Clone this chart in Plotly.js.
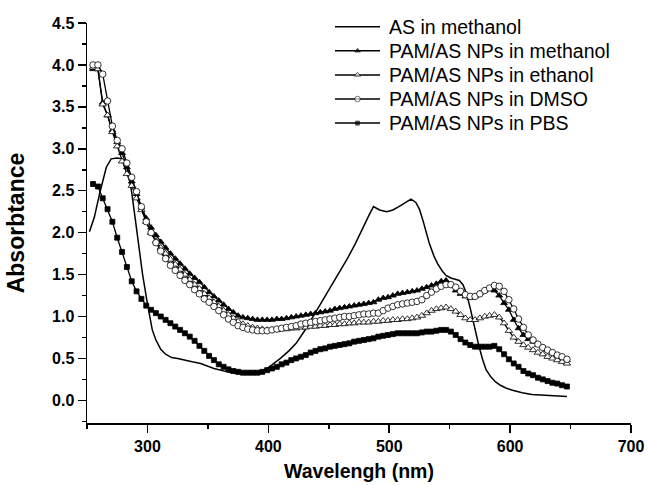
<!DOCTYPE html>
<html>
<head>
<meta charset="utf-8">
<script src="https://cdn.plot.ly/plotly-3.0.1.min.js"></script>
<style>html,body{margin:0;padding:0;background:#fff;}#chart{width:649px;height:485px;}</style>
</head>
<body>
<div id="chart"></div>
<script>
// AS in methanol (solid line)
var asWl = [252,256,261,266,270,275,279,283,287,290,292,296,300,304,307,311,315,320,325,330,337,344,350,355,361,366,374,380,385,390,395,400,405,410,417,423,430,437,444,451,458,465,472,478,483,487,492,498,503,508,513,518,522,525,528,533,537,540,544,547,551,554,558,561,564,567,570,574,577,580,584,588,592,596,602,610,618,627,637,647];
var asAbs = [2.01,2.18,2.50,2.78,2.88,2.89,2.88,2.79,2.48,2.16,1.91,1.50,1.15,0.84,0.72,0.61,0.55,0.51,0.50,0.48,0.46,0.44,0.41,0.38,0.36,0.34,0.32,0.32,0.32,0.33,0.35,0.39,0.44,0.50,0.59,0.68,0.83,1.00,1.17,1.35,1.51,1.68,1.87,2.06,2.20,2.31,2.27,2.25,2.27,2.31,2.35,2.40,2.36,2.28,2.14,1.88,1.72,1.63,1.54,1.49,1.46,1.45,1.43,1.38,1.27,1.10,0.90,0.66,0.50,0.37,0.28,0.22,0.18,0.15,0.12,0.09,0.07,0.06,0.05,0.045];

// wavelengths of the NP spectra (marker series)
var npWl = [255,259,263,267,271,275,279,283,287,291,295,299,303,307,311,315,319,323,327,331,335,339,343,347,351,355,359,363,367,371,375,379,383,387,391,395,399,403,407,411,415,419,423,427,431,435,439,443,447,451,455,459,463,467,471,475,479,483,487,491,495,499,503,507,511,515,519,523,527,531,535,539,543,547,551,555,559,563,567,571,575,579,583,587,591,595,599,603,607,611,615,619,623,627,631,635,639,643,647];

var npMethanol = [3.95,3.95,3.55,3.40,3.22,3.08,2.95,2.78,2.61,2.46,2.30,2.17,2.06,1.97,1.89,1.82,1.75,1.69,1.63,1.57,1.51,1.46,1.41,1.35,1.29,1.24,1.19,1.14,1.09,1.05,1.01,0.99,0.98,0.97,0.96,0.96,0.96,0.96,0.97,0.97,0.98,0.99,1.00,1.01,1.02,1.03,1.04,1.05,1.06,1.07,1.09,1.10,1.11,1.12,1.13,1.14,1.15,1.16,1.17,1.20,1.22,1.23,1.25,1.27,1.28,1.29,1.30,1.31,1.33,1.35,1.37,1.39,1.42,1.43,1.37,1.31,1.27,1.24,1.22,1.24,1.28,1.31,1.33,1.31,1.25,1.16,1.08,0.96,0.86,0.78,0.73,0.70,0.66,0.63,0.60,0.57,0.54,0.51,0.48];

var npEthanol = [3.97,3.95,3.53,3.40,3.20,3.03,2.85,2.70,2.56,2.41,2.27,2.13,2.00,1.90,1.82,1.75,1.68,1.62,1.56,1.50,1.44,1.38,1.33,1.27,1.22,1.17,1.12,1.07,1.02,0.98,0.94,0.91,0.89,0.87,0.86,0.85,0.84,0.84,0.84,0.85,0.85,0.86,0.86,0.87,0.87,0.88,0.88,0.89,0.89,0.90,0.90,0.91,0.91,0.92,0.92,0.93,0.93,0.93,0.94,0.94,0.95,0.95,0.96,0.96,0.97,0.97,0.98,0.99,1.01,1.04,1.07,1.09,1.10,1.11,1.09,1.06,1.02,0.98,0.96,0.96,0.98,1.00,1.01,1.02,0.99,0.92,0.83,0.75,0.70,0.66,0.63,0.60,0.57,0.55,0.52,0.50,0.48,0.46,0.44];

var npDMSO = [4.00,4.00,3.89,3.57,3.27,3.10,3.00,2.83,2.66,2.49,2.31,2.13,2.00,1.88,1.78,1.69,1.61,1.55,1.49,1.43,1.38,1.32,1.27,1.21,1.17,1.12,1.07,1.02,0.97,0.93,0.89,0.87,0.85,0.84,0.83,0.83,0.83,0.84,0.85,0.86,0.87,0.88,0.89,0.91,0.92,0.93,0.94,0.95,0.96,0.97,0.98,0.99,1.00,1.00,1.01,1.02,1.03,1.03,1.04,1.04,1.07,1.10,1.12,1.14,1.15,1.16,1.17,1.18,1.20,1.25,1.29,1.33,1.36,1.38,1.38,1.35,1.30,1.26,1.24,1.24,1.27,1.31,1.34,1.37,1.36,1.30,1.20,1.09,0.97,0.87,0.78,0.72,0.67,0.63,0.60,0.57,0.54,0.52,0.49];

var npPBS = [2.58,2.55,2.41,2.28,2.13,1.94,1.77,1.59,1.42,1.30,1.21,1.13,1.08,1.04,1.00,0.96,0.92,0.88,0.84,0.80,0.76,0.71,0.65,0.59,0.53,0.48,0.43,0.40,0.37,0.35,0.34,0.33,0.33,0.33,0.33,0.34,0.36,0.38,0.40,0.43,0.45,0.48,0.50,0.52,0.54,0.57,0.59,0.61,0.62,0.64,0.65,0.66,0.67,0.68,0.70,0.71,0.72,0.73,0.74,0.76,0.77,0.78,0.79,0.80,0.80,0.80,0.80,0.80,0.81,0.82,0.82,0.83,0.84,0.84,0.82,0.78,0.73,0.69,0.66,0.64,0.64,0.64,0.64,0.65,0.61,0.55,0.49,0.44,0.40,0.35,0.32,0.30,0.27,0.25,0.23,0.21,0.20,0.18,0.165];

var seriesNames = ['AS in methanol','PAM/AS NPs in methanol','PAM/AS NPs in ethanol','PAM/AS NPs in DMSO','PAM/AS NPs in PBS'];
var xTickVals = [300,400,500,600,700];
var yTickVals = [0,0.5,1,1.5,2,2.5,3,3.5,4,4.5];
var yTickText = ['0.0','0.5','1.0','1.5','2.0','2.5','3.0','3.5','4.0','4.5'];

var FONT = 'Arial, "Liberation Sans", Helvetica, sans-serif';

// marker styles per series (null = plain line)
var styles = [
  null,
  {symbol: 'triangle-up', color: '#000', size: 6},
  {symbol: 'triangle-up', color: '#fff', size: 6.5},
  {symbol: 'circle', color: '#fff', size: 6.5},
  {symbol: 'square', color: '#000', size: 5}
];

function mk(x, y, name, st) {
  return {
    x: x, y: y, name: name, type: 'scatter', mode: 'lines+markers', cliponaxis: false, showlegend: false,
    line: {color: '#000', width: 1.3},
    marker: {symbol: st.symbol, size: st.size, color: st.color, line: {color: '#000', width: 0.8}}
  };
}

var traces = [
  {x: asWl, y: asAbs, name: seriesNames[0], type: 'scatter', mode: 'lines', cliponaxis: false, showlegend: false, line: {color: '#000', width: 1.5}},
  mk(npWl, npMethanol, seriesNames[1], styles[1]),
  mk(npWl, npEthanol, seriesNames[2], styles[2]),
  mk(npWl, npDMSO, seriesNames[3], styles[3]),
  mk(npWl, npPBS, seriesNames[4], styles[4])
];

// Legend (drawn in a pixel-based overlay frame of the plot area)
var PLOT_L = 87, PLOT_R = 631, PLOT_T = 23, PLOT_B = 423;
var legKeyX0 = 335, legKeyX1 = 380, legTextX = 387, legRow0 = 26.7, legRowGap = 24.1;
var annotations = [];
seriesNames.forEach(function (nm, i) {
  var ry = legRow0 + i * legRowGap;
  var st = styles[i];
  var key = {
    x: [legKeyX0, (legKeyX0 + legKeyX1) / 2, legKeyX1], y: [ry, ry, ry],
    xaxis: 'x2', yaxis: 'y2', type: 'scatter', showlegend: false, cliponaxis: false, hoverinfo: 'skip',
    mode: st ? 'lines+markers' : 'lines',
    line: {color: '#000', width: 1.5}
  };
  if (st) {
    key.marker = {symbol: st.symbol, size: [0, st.size - 1, 0], color: st.color, line: {color: '#000', width: 0.8}};
  }
  traces.push(key);
  annotations.push({
    xref: 'x2', yref: 'y2', x: legTextX, y: ry, xanchor: 'left', yanchor: 'middle',
    text: nm, showarrow: false, font: {family: FONT, size: 19.5, color: '#000'}
  });
});

var layout = {
  width: 649, height: 485,
  margin: {l: PLOT_L, r: 649 - PLOT_R, t: PLOT_T, b: 485 - PLOT_B, autoexpand: false},
  paper_bgcolor: '#fff', plot_bgcolor: '#fff',
  font: {family: FONT, color: '#000'},
  showlegend: false,
  annotations: annotations,
  xaxis: {
    range: [250, 700], tickvals: xTickVals, ticktext: xTickVals.map(String),
    showline: true, linecolor: '#000', linewidth: 1.5, mirror: false,
    ticks: 'outside', ticklen: 8, tickwidth: 1.5, tickcolor: '#000',
    minor: {dtick: 50, tick0: 250, ticks: 'outside', ticklen: 4, tickwidth: 1.5, tickcolor: '#000', showgrid: false},
    showgrid: false, zeroline: false,
    tickfont: {family: FONT, size: 16, color: '#000', weight: 'bold'},
    title: {text: '<b>Wavelengh (nm)</b>', font: {family: FONT, size: 19.5, color: '#000'}, standoff: 10}
  },
  yaxis: {
    range: [-0.27, 4.5], tickvals: yTickVals, ticktext: yTickText,
    showline: true, linecolor: '#000', linewidth: 1.5, mirror: false,
    ticks: 'outside', ticklen: 8, tickwidth: 1.5, tickcolor: '#000',
    minor: {dtick: 0.25, tick0: 0, ticks: 'outside', ticklen: 4, tickwidth: 1.5, tickcolor: '#000', showgrid: false},
    showgrid: false, zeroline: false,
    tickfont: {family: FONT, size: 16, color: '#000', weight: 'bold'},
    title: {text: '<b>Absorbtance</b>', font: {family: FONT, size: 23, color: '#000'}, standoff: 21}
  },
  xaxis2: {overlaying: 'x', anchor: 'y2', range: [PLOT_L, PLOT_R], visible: false, showgrid: false, zeroline: false},
  yaxis2: {overlaying: 'y', anchor: 'x2', range: [PLOT_B, PLOT_T], visible: false, showgrid: false, zeroline: false}
};

Plotly.newPlot('chart', traces, layout, {displayModeBar: false, staticPlot: true});
</script>
</body>
</html>
